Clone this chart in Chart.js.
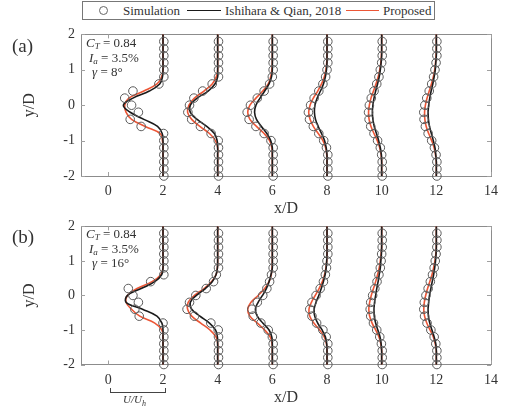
<!DOCTYPE html>
<html>
<head>
<meta charset="utf-8">
<script src="https://cdn.jsdelivr.net/npm/chart.js@4"></script>
<style>
  body { margin: 0; background: #fff; }
  #wrap { position: relative; width: 505px; height: 412px; font-family: "Liberation Serif", serif; color: #333; }
  canvas { position: absolute; left: 0; }
  .txt { position: absolute; white-space: nowrap; }
  .legend { position: absolute; left: 82px; top: 1px; width: 351px; height: 17px; border: 1px solid #777; font-size: 13px; }
  .legend span { position: absolute; top: 0px; line-height: 17px; }
  .mark { position: absolute; }
  .note { font-size: 13px; line-height: 14px; }
  .note i { font-style: italic; }
  .note sub { font-size: 9px; vertical-align: -2px; }
</style>
</head>
<body>
<div id="wrap">
  <canvas id="chartA" width="505" height="200" style="top:20px"></canvas>
  <canvas id="chartB" width="505" height="200" style="top:212px"></canvas>

  <div class="legend">
    <div class="mark" style="left:16px;top:4px;width:7px;height:7px;border:1px solid #666;border-radius:50%"></div>
    <span style="left:40px">Simulation</span>
    <div class="mark" style="left:104px;top:8px;width:34px;height:0;border-top:1.5px solid #1a1a1a"></div>
    <span style="left:142px">Ishihara &amp; Qian, 2018</span>
    <div class="mark" style="left:263px;top:8px;width:33px;height:0;border-top:1.5px solid #ec5636"></div>
    <span style="left:300px">Proposed</span>
  </div>

  <div class="txt" style="left:12px;top:35px;font-size:19px">(a)</div>
  <div class="txt" style="left:12px;top:226px;font-size:19px">(b)</div>

  <div class="txt note" style="left:86px;top:36px"><i>C<sub>T</sub></i> = 0.84</div>
  <div class="txt note" style="left:89px;top:51px"><i>I<sub>a</sub></i> = 3.5%</div>
  <div class="txt note" style="left:92px;top:65px"><i>γ</i> = 8°</div>
  <div class="txt note" style="left:86px;top:227px"><i>C<sub>T</sub></i> = 0.84</div>
  <div class="txt note" style="left:89px;top:242px"><i>I<sub>a</sub></i> = 3.5%</div>
  <div class="txt note" style="left:92px;top:256px"><i>γ</i> = 16°</div>

  <div class="mark" style="left:110px;top:388px;width:54px;height:4px;border:1px solid #444;border-top:none"></div>
  <div class="txt" style="left:123px;top:393px;font-size:11px;font-style:italic">U/U<sub style="font-size:8px">h</sub></div>
</div>

<script>
const columns = [2, 4, 6, 8, 10, 12];
const xTicks = [0, 2, 4, 6, 8, 10, 12, 14];
const yTicks = [-2, -1, 0, 1, 2];

// y positions, top to bottom
const simY = [1.8, 1.6, 1.4, 1.2, 1.0, 0.8, 0.6, 0.4, 0.2, 0, -0.2, -0.4, -0.6, -0.8, -1.0, -1.2, -1.4, -1.6, -1.8, -2.0];
const lineY = [2.0, 1.8, 1.6, 1.4, 1.2, 1.0, 0.8, 0.6, 0.4, 0.2, 0, -0.2, -0.4, -0.6, -0.8, -1.0, -1.2, -1.4, -1.6, -1.8, -2.0];

// horizontal shift of each profile from its x/D line (one row per column)
const simA = [
  [0.03, 0.03, 0.03, 0.03, 0.03, 0.03, -0.15, -1.1, -1.4, -1.15, -0.9, -1.2, -0.8, 0.02, 0.03, 0.03, 0.03, 0.03, 0.03, 0.03],
  [0.03, 0.03, 0.03, 0.03, 0.03, 0.03, -0.2, -0.55, -0.87, -1.03, -1.09, -0.95, -0.63, -0.24, 0.02, 0.03, 0.03, 0.03, 0.03, 0.03],
  [0.03, 0.03, 0.03, 0.03, 0.03, 0.0, -0.1, -0.3, -0.55, -0.8, -0.92, -0.85, -0.6, -0.3, -0.05, 0.03, 0.03, 0.03, 0.03, 0.03],
  [0.03, 0.03, 0.03, 0.03, 0.0, -0.05, -0.15, -0.3, -0.47, -0.6, -0.68, -0.64, -0.5, -0.3, -0.12, -0.02, 0.03, 0.03, 0.03, 0.03],
  [0.02, 0.02, 0.02, 0.0, -0.05, -0.1, -0.18, -0.28, -0.38, -0.45, -0.48, -0.46, -0.4, -0.28, -0.15, -0.05, 0.0, 0.02, 0.02, 0.02],
  [0.02, 0.02, 0.02, -0.01, -0.05, -0.1, -0.17, -0.26, -0.35, -0.42, -0.46, -0.45, -0.4, -0.3, -0.17, -0.07, -0.01, 0.02, 0.02, 0.02]
];
const ishA = [
  [0, 0, 0, 0, 0, 0, -0.02, -0.12, -0.5, -1.1, -1.45, -1.2, -0.7, -0.2, -0.03, 0, 0, 0, 0, 0, 0],
  [0, 0, 0, 0, 0, 0, 0, -0.1, -0.35, -0.75, -1.0, -1.0, -0.75, -0.4, -0.12, -0.02, 0, 0, 0, 0, 0],
  [0, 0, 0, 0, 0, 0, -0.03, -0.12, -0.28, -0.45, -0.6, -0.65, -0.58, -0.4, -0.2, -0.06, 0, 0, 0, 0, 0],
  [0, 0, 0, 0, 0, -0.02, -0.06, -0.13, -0.24, -0.36, -0.44, -0.46, -0.42, -0.32, -0.2, -0.09, -0.03, 0, 0, 0, 0],
  [0, 0, 0, 0, -0.02, -0.05, -0.09, -0.15, -0.22, -0.28, -0.32, -0.34, -0.32, -0.27, -0.19, -0.11, -0.05, -0.01, 0, 0, 0],
  [0, 0, 0, 0, -0.02, -0.04, -0.08, -0.13, -0.19, -0.24, -0.28, -0.3, -0.29, -0.25, -0.18, -0.11, -0.05, -0.02, 0, 0, 0]
];
const propA = [
  [0, 0, 0, 0, 0, 0, -0.05, -0.22, -0.7, -1.25, -1.4, -1.35, -1.15, -0.65, -0.1, -0.02, 0, 0, 0, 0, 0],
  [0, 0, 0, 0, 0, 0, -0.05, -0.2, -0.5, -0.85, -1.05, -1.1, -0.95, -0.65, -0.3, -0.08, 0, 0, 0, 0, 0],
  [0, 0, 0, 0, 0, -0.02, -0.06, -0.15, -0.35, -0.6, -0.82, -0.9, -0.82, -0.58, -0.3, -0.1, -0.02, 0, 0, 0, 0],
  [0, 0, 0, 0, -0.01, -0.04, -0.1, -0.2, -0.34, -0.5, -0.62, -0.67, -0.62, -0.5, -0.32, -0.15, -0.05, -0.01, 0, 0, 0],
  [0, 0, 0, -0.01, -0.03, -0.07, -0.13, -0.21, -0.3, -0.39, -0.45, -0.48, -0.46, -0.39, -0.28, -0.16, -0.07, -0.02, 0, 0, 0],
  [0, 0, 0, -0.01, -0.03, -0.06, -0.11, -0.18, -0.26, -0.34, -0.4, -0.43, -0.42, -0.37, -0.28, -0.17, -0.08, -0.03, 0, 0, 0]
];

const simB = [
  [0.03, 0.03, 0.03, 0.03, 0.03, 0.03, 0.03, -0.45, -1.27, -1.1, -0.9, -1.03, -0.87, 0.0, 0.03, 0.03, 0.03, 0.03, 0.03, 0.03],
  [0.03, 0.03, 0.03, 0.03, 0.03, 0.03, -0.05, -0.15, -0.42, -0.8, -1.03, -1.12, -0.85, -0.25, 0.02, 0.03, 0.03, 0.03, 0.03, 0.03],
  [0.03, 0.03, 0.03, 0.03, 0.03, 0.03, -0.03, -0.1, -0.2, -0.35, -0.55, -0.75, -0.7, -0.42, -0.15, 0.0, 0.03, 0.03, 0.03, 0.03],
  [0.03, 0.03, 0.03, 0.03, 0.0, -0.02, -0.06, -0.13, -0.25, -0.4, -0.55, -0.63, -0.55, -0.38, -0.15, -0.03, 0.03, 0.03, 0.03, 0.03],
  [0.02, 0.02, 0.02, 0.0, -0.02, -0.05, -0.1, -0.17, -0.25, -0.33, -0.4, -0.42, -0.4, -0.3, -0.18, -0.07, -0.01, 0.02, 0.02, 0.02],
  [0.02, 0.02, 0.02, -0.01, -0.04, -0.08, -0.14, -0.22, -0.3, -0.38, -0.44, -0.46, -0.43, -0.34, -0.2, -0.08, -0.02, 0.02, 0.02, 0.02]
];
const ishB = [
  [0, 0, 0, 0, 0, 0, 0, -0.05, -0.3, -0.8, -1.3, -1.35, -0.75, -0.22, -0.04, 0, 0, 0, 0, 0, 0],
  [0, 0, 0, 0, 0, 0, -0.01, -0.06, -0.2, -0.45, -0.78, -1.0, -0.95, -0.65, -0.3, -0.08, -0.01, 0, 0, 0, 0],
  [0, 0, 0, 0, 0, 0, 0, -0.05, -0.12, -0.22, -0.36, -0.52, -0.62, -0.55, -0.35, -0.12, -0.02, 0, 0, 0, 0],
  [0, 0, 0, 0, 0, -0.01, -0.03, -0.07, -0.13, -0.21, -0.3, -0.4, -0.47, -0.45, -0.34, -0.18, -0.06, -0.01, 0, 0, 0],
  [0, 0, 0, 0, -0.01, -0.03, -0.05, -0.09, -0.13, -0.18, -0.22, -0.26, -0.28, -0.27, -0.22, -0.14, -0.06, -0.02, 0, 0, 0],
  [0, 0, 0, 0, -0.01, -0.03, -0.06, -0.1, -0.15, -0.2, -0.25, -0.28, -0.3, -0.29, -0.24, -0.16, -0.08, -0.02, 0, 0, 0]
];
const propB = [
  [0, 0, 0, 0, 0, 0, 0, -0.08, -0.4, -0.95, -1.3, -1.35, -1.15, -0.85, -0.3, -0.04, 0, 0, 0, 0, 0],
  [0, 0, 0, 0, 0, 0, -0.01, -0.06, -0.22, -0.5, -0.85, -1.08, -1.1, -0.95, -0.62, -0.28, -0.06, 0, 0, 0, 0],
  [0, 0, 0, 0, 0, 0, -0.01, -0.04, -0.12, -0.28, -0.52, -0.78, -0.9, -0.82, -0.55, -0.28, -0.08, -0.01, 0, 0, 0],
  [0, 0, 0, 0, 0, -0.01, -0.04, -0.09, -0.17, -0.29, -0.43, -0.57, -0.66, -0.63, -0.48, -0.27, -0.1, -0.02, 0, 0, 0],
  [0, 0, 0, 0, -0.02, -0.05, -0.09, -0.15, -0.22, -0.3, -0.38, -0.44, -0.47, -0.44, -0.35, -0.22, -0.1, -0.03, 0, 0, 0],
  [0, 0, 0, 0, -0.02, -0.05, -0.1, -0.16, -0.24, -0.32, -0.39, -0.44, -0.46, -0.43, -0.35, -0.23, -0.11, -0.04, 0, 0, 0]
];

const RED = "#ec5636";
const BLACK = "#1a1a1a";
const CIRCLE = "#5a5a5a";
const SERIF = "'Liberation Serif', serif";

Chart.defaults.font.family = SERIF;
Chart.defaults.color = "#333";

const buildDatasets = (sim, ish, prop) => {
  const ds = [];
  columns.forEach((c, i) => {
    ds.push({
      data: simY.map((y, k) => ({ x: c + sim[i][k], y })),
      showLine: false,
      pointRadius: 4.3,
      pointBorderWidth: 1,
      pointBorderColor: CIRCLE,
      pointBackgroundColor: "rgba(0,0,0,0)",
      clip: false,
    });
  });
  const line = (rows, color) => columns.map((c, i) => ({
    data: lineY.map((y, k) => ({ x: c + rows[i][k], y })),
    showLine: true,
    borderColor: color,
    borderWidth: 1.6,
    pointRadius: 0,
    tension: 0.4,
    clip: false,
  }));
  return ds.concat(line(ish, BLACK), line(prop, RED));
};

const framePlugin = {
  id: "frame",
  beforeDatasetsDraw(chart) {
    const { ctx, chartArea: a, scales } = chart;
    ctx.save();
    ctx.strokeStyle = "#8c8c8c";
    ctx.lineWidth = 1;
    ctx.strokeRect(Math.round(a.left) + 0.5, Math.round(a.top) + 0.5, Math.round(a.right - a.left), Math.round(a.bottom - a.top));
    ctx.strokeStyle = "#a0a0a0";
    ctx.beginPath();
    xTicks.forEach((v) => {
      const px = Math.round(scales.x.getPixelForValue(v)) + 0.5;
      ctx.moveTo(px, a.bottom); ctx.lineTo(px, a.bottom - 4);
      ctx.moveTo(px, a.top); ctx.lineTo(px, a.top + 4);
    });
    yTicks.forEach((v) => {
      const py = Math.round(scales.y.getPixelForValue(v)) + 0.5;
      ctx.moveTo(a.left, py); ctx.lineTo(a.left + 4, py);
      ctx.moveTo(a.right, py); ctx.lineTo(a.right - 4, py);
    });
    ctx.stroke();
    ctx.restore();
  },
};

const tickFont = { family: SERIF, size: 14 };
const titleFont = { family: SERIF, size: 16 };

const makeChart = (id, datasets, pad, xAxisHeight) => new Chart(document.getElementById(id), {
  type: "scatter",
  data: { datasets },
  options: {
    responsive: false,
    animation: false,
    events: [],
    layout: { padding: pad },
    plugins: { legend: { display: false }, tooltip: { enabled: false } },
    scales: {
      x: {
        type: "linear",
        min: -1,
        max: 14,
        afterBuildTicks: (s) => { s.ticks = xTicks.map((v) => ({ value: v })); },
        afterFit: (s) => { s.height = xAxisHeight; },
        ticks: { color: "#333", font: tickFont, padding: 7, maxRotation: 0 },
        grid: { display: false, drawTicks: false },
        border: { display: false },
        title: { display: true, text: "x/D", color: "#333", font: titleFont, padding: { top: 0, bottom: 1 } },
      },
      y: {
        type: "linear",
        min: -2,
        max: 2,
        afterBuildTicks: (s) => { s.ticks = yTicks.map((v) => ({ value: v })); },
        afterFit: (s) => { s.width = 65; },
        ticks: { color: "#333", font: tickFont, padding: 6 },
        grid: { display: false, drawTicks: false },
        border: { display: false },
        title: { display: true, text: "y/D", color: "#333", font: titleFont, padding: { top: 4, bottom: 4 } },
      },
    },
  },
  plugins: [framePlugin],
});

makeChart("chartA", buildDatasets(simA, ishA, propA), { left: 16, right: 11, top: 11, bottom: 1 }, 43);
makeChart("chartB", buildDatasets(simB, ishB, propB), { left: 16, right: 11, top: 10.5, bottom: 4 }, 43.5);
</script>
</body>
</html>
